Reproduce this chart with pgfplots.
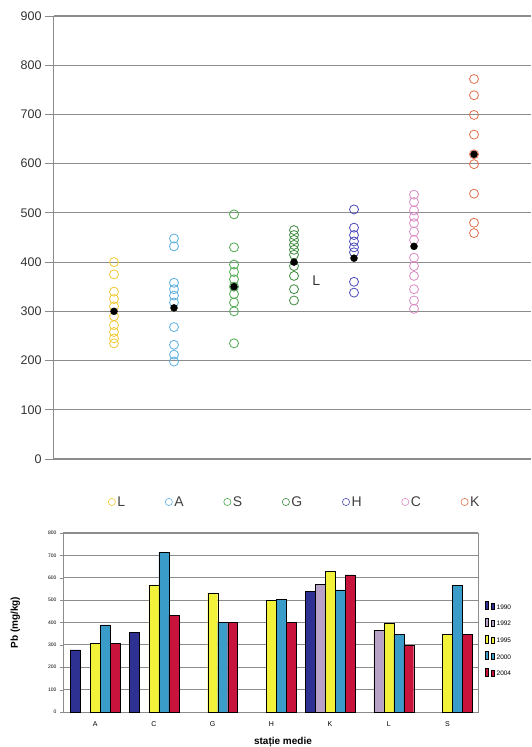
\documentclass[border=0pt]{standalone}
\usepackage{pgfplots}
\pgfplotsset{compat=1.18}
\usepackage{fontspec}
\setmainfont{Liberation Sans}

\definecolor{cL}{HTML}{F0C832}
\definecolor{cA}{HTML}{5AAEE0}
\definecolor{cS}{HTML}{4CA84C}
\definecolor{cG}{HTML}{3C8A3C}
\definecolor{cH}{HTML}{4A4AB8}
\definecolor{cC}{HTML}{D98CC4}
\definecolor{cK}{HTML}{E0704C}
\definecolor{gridg}{HTML}{8C8C8C}

\definecolor{b90}{HTML}{2E3192}
\definecolor{b92}{HTML}{B8A2C8}
\definecolor{b95}{HTML}{F2F23A}
\definecolor{b00}{HTML}{3A9CC8}
\definecolor{b04}{HTML}{C8143C}

\pgfplotsset{lowerbox/.style={
    at={(63pt,35pt)}, anchor=south west,
    scale only axis, width=415pt, height=179pt,
    xmin=-0.55, xmax=6.52, ymin=0, ymax=800,
    ytick={0,100,...,800}}}

\begin{document}
\begin{tikzpicture}
\useasboundingbox (0pt,0pt) rectangle (531pt,747pt);

% upper chart: individual values and mean per station
\begin{axis}[
    at={(54pt,288pt)}, anchor=south west,
    scale only axis, width=477pt, height=443pt,
    xmin=0, xmax=7.95, ymin=0, ymax=900,
    ytick={0,100,...,900}, xtick=\empty,
    axis x line*=bottom, axis y line*=left,
    axis line style={gridg, line width=1pt, -},
    ymajorgrids, grid style={gridg, line width=1.1pt},
    tick align=outside, major tick length=9pt,
    y tick style={gridg, line width=0.8pt},
    /pgf/number format/assume math mode=true,
    yticklabel style={font=\fontsize{12.5}{13}\selectfont, text=black!80},
    clip=false,
    legend columns=7,
    legend style={at={(0.505,-0.097)}, anchor=center, draw=none, fill=none,
        font=\fontsize{14}{15}\selectfont, text=black!75,
        /tikz/every even column/.append style={column sep=38pt}},
    legend image post style={mark size=3.6pt, line width=0.6pt},
    legend cell align=left,
]
\addplot[only marks, mark=o, mark size=4.5pt, cL, line width=0.8pt] coordinates {
 (1,235) (1,245) (1,258) (1,272) (1,290) (1,310) (1,325) (1,340) (1,375) (1,400)};
\addplot[only marks, mark=o, mark size=4.5pt, cA, line width=0.8pt] coordinates {
 (2,198) (2,212) (2,232) (2,268) (2,318) (2,332) (2,345) (2,358) (2,432) (2,448)};
\addplot[only marks, mark=o, mark size=4.5pt, cS, line width=0.8pt] coordinates {
 (3,235) (3,300) (3,318) (3,335) (3,350) (3,365) (3,380) (3,395) (3,430) (3,497)};
\addplot[only marks, mark=o, mark size=4.5pt, cG, line width=0.8pt] coordinates {
 (4,322) (4,345) (4,372) (4,392) (4,415) (4,425) (4,435) (4,445) (4,455) (4,465)};
\addplot[only marks, mark=o, mark size=4.5pt, cH, line width=0.8pt] coordinates {
 (5,338) (5,360) (5,420) (5,430) (5,442) (5,455) (5,470) (5,507)};
\addplot[only marks, mark=o, mark size=4.5pt, cC, line width=0.8pt] coordinates {
 (6,305) (6,322) (6,345) (6,372) (6,392) (6,409) (6,445) (6,462) (6,479) (6,492) (6,505) (6,522) (6,537)};
\addplot[only marks, mark=o, mark size=4.5pt, cK, line width=0.8pt] coordinates {
 (7,459) (7,480) (7,539) (7,599) (7,619) (7,659) (7,699) (7,739) (7,772)};
\legend{L,A,S,G,H,C,K}
% means
\addplot[forget plot, only marks, mark=*, mark size=3.5pt, black] coordinates {
 (1,300) (2,307) (3,350) (4,400) (5,408) (6,432) (7,619)};
\node[font=\fontsize{14}{15}\selectfont, text=black!80] at (axis cs:4.37,362) {L};
\end{axis}

% lower chart: horizontal rules behind the bars (every 100 mg/kg)
\foreach \k in {1,...,8}
  \draw[gridg, line width=1.2pt] (63pt,35pt+\k*22.375pt) -- (478pt,35pt+\k*22.375pt);

% lower chart: Pb by station and year
\begin{axis}[lowerbox,
    ybar=0pt, bar width=0.17,
    xtick={0,...,6}, xticklabels={A,C,G,H,K,L,S},
    axis line style={gridg, line width=0.8pt},
    tick align=outside, major tick length=3pt, y tick style={gridg},
    x tick style={draw=none}, ytick pos=left,
    /pgf/number format/assume math mode=true,
    yticklabel style={font=\fontsize{5}{6}\selectfont},
    xticklabel style={font=\fontsize{7}{8}\selectfont, yshift=-3pt},
    ylabel={\textbf{Pb (mg/kg)}}, ylabel style={font=\fontsize{7}{8}\selectfont},
    xlabel={\textbf{stație medie}}, xlabel style={font=\fontsize{7}{8}\selectfont},
    every axis y label/.style={at={(axis description cs:-0.115,0.5)}, rotate=90, anchor=center},
    every axis x label/.style={at={(axis description cs:0.53,0)}, anchor=north, yshift=-22pt},
    clip=false,
    legend style={at={(1.01,0.63)}, anchor=north west, draw=none, fill=none,
        font=\fontsize{6.5}{7}\selectfont, row sep=5.5pt},
    legend cell align=left,
]
\addplot[fill=b90, draw=black, line width=0.3pt] coordinates {(0,278) (1,356) (4,538)};
\addplot[fill=b92, draw=black, line width=0.3pt] coordinates {(4,571) (5,366)};
\addplot[fill=b95, draw=black, line width=0.3pt] coordinates {(0,306) (1,568) (2,531) (3,500) (4,628) (5,396) (6,347)};
\addplot[fill=b00, draw=black, line width=0.3pt] coordinates {(0,389) (1,714) (2,400) (3,505) (4,546) (5,347) (6,565)};
\addplot[fill=b04, draw=black, line width=0.3pt] coordinates {(0,306) (1,433) (2,400) (3,400) (4,613) (5,299) (6,347)};
\legend{1990,1992,1995,2000,2004}
\end{axis}
\end{tikzpicture}
\end{document}
